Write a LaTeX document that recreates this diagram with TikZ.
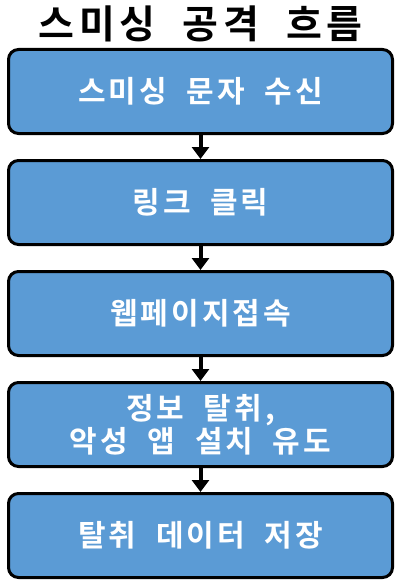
\documentclass[tikz,border=0pt]{standalone}
\usepackage{fontspec}
\newfontfamily\krbox{Noto Sans CJK KR Bold}[LetterSpace=10,WordSpace=2]
\newfontfamily\krtitle{Noto Sans CJK KR Bold}[LetterSpace=12,WordSpace=2]
\usetikzlibrary{positioning,arrows.meta}
\definecolor{boxblue}{HTML}{5B9BD5}
\tikzset{
  flowbox/.style={draw=black, line width=3pt, fill=boxblue, rounded corners=10pt,
    minimum width=384pt, minimum height=84pt, text=white, align=center,
    font=\krbox\fontsize{30}{31}\selectfont},
  flowtitle/.style={font=\krtitle\fontsize{39}{42}\selectfont}
}
\begin{document}
\begin{tikzpicture}[x=1pt,y=1pt,node distance=111pt,>={Triangle[width=17pt,length=12pt]},line width=4pt]
    \useasboundingbox (0,0) rectangle (401,-583);
    \node (title) [flowtitle] at (200.5,-24) {스미싱 공격 흐름};
    \node (sms) [flowbox] at (200.5,-91.5) {스미싱 문자 수신};
    \node (click) [flowbox, below of=sms] {링크 클릭};
    \node (web) [flowbox, below of=click] {웹페이지접속};
    \node (steal) [flowbox, below of=web] {정보 탈취,\\악성 앱 설치 유도};
    \node (store) [flowbox, below of=steal] {탈취 데이터 저장};
    \draw[->] (sms) -- (click);
    \draw[->] (click) -- (web);
    \draw[->] (web) -- (steal);
    \draw[->] (steal) -- (store);
\end{tikzpicture}
\end{document}
